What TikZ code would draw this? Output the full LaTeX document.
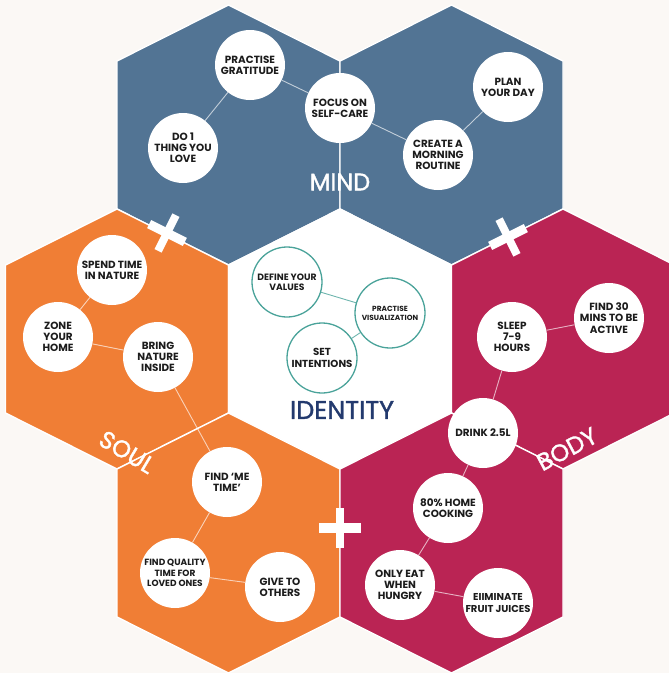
\documentclass[tikz,border=0pt]{standalone}
\usepackage{fontspec}
\setmainfont{Poppins}
\newfontfamily\labelfont{Poppins}[FakeBold=1.4]
\definecolor{bgcream}{HTML}{FBF8F5}
\definecolor{mindblue}{HTML}{527494}
\definecolor{soulorange}{HTML}{F07E35}
\definecolor{bodyred}{HTML}{BA2454}
\definecolor{idteal}{HTML}{4AA39A}
\definecolor{idnavy}{HTML}{233A6E}
\definecolor{inktext}{HTML}{1C1C1C}

% one hexagonal cell: centre x, centre y, fill colour
\newcommand\hexcell[3]{%
  \filldraw[fill=#3, draw=white, line width=1.4pt, line join=miter]
    (#1,#2-130) -- (#1+111.5,#2-74) -- (#1+111.5,#2+74) --
    (#1,#2+130) -- (#1-111.5,#2+74) -- (#1-111.5,#2-74) -- cycle;}

% a white plus sign: centre x, centre y, rotation
\newcommand\plusmark[3]{%
  \begin{scope}[shift={(#1,#2)}, rotate=#3]
    \fill[white] (-20,-4.5) rectangle (20,4.5);
    \fill[white] (-4,-20) rectangle (4,20);
  \end{scope}}

\tikzset{
  bub/.style={circle, fill=white, minimum size=70pt, inner sep=0pt,
    align=center, text=inktext,
    font=\fontsize{10.4}{11.2}\selectfont\bfseries},
  idbub/.style={bub, draw=idteal, line width=1.3pt},
  link/.style={draw=white, draw opacity=0.65, line width=0.9pt},
  idlink/.style={draw=idteal, draw opacity=0.8, line width=0.9pt},
  biglabel/.style={text=white, inner sep=0pt,
    font=\labelfont\fontsize{24}{24}\selectfont},
}

\begin{document}
\begin{tikzpicture}[x=1pt, y=-1pt]
  \useasboundingbox (0,0) rectangle (669,673);
  \fill[bgcream] (0,0) rectangle (669,673);
  \clip (0,0) rectangle (669,673);

  % honeycomb
  \hexcell{228.5}{135}{mindblue}
  \hexcell{451.5}{135}{mindblue}
  \hexcell{117}{339}{soulorange}
  \hexcell{340}{339}{white}
  \hexcell{563}{339}{bodyred}
  \hexcell{228.5}{543}{soulorange}
  \hexcell{451.5}{543}{bodyred}

  % plus signs on the seams
  \plusmark{167}{233}{-26.6}
  \plusmark{508}{237}{26.6}
  \begin{scope}[shift={(340,528)}]
    \fill[white] (-21,-5) rectangle (21,5);
    \fill[white] (-4,-20) rectangle (4,20);
  \end{scope}

  % MIND
  \node[bub] (grat)  at (250,65)  {PRACTISE\\GRATITUDE};
  \node[bub] (focus) at (340,108) {FOCUS ON\\SELF-CARE};
  \node[bub] (love)  at (183,148) {DO 1\\THING YOU\\LOVE};
  \node[bub] (plan)  at (508,87)  {PLAN\\YOUR DAY};
  \node[bub] (morn)  at (438,155) {CREATE A\\MORNING\\ROUTINE};
  \node[biglabel] (mind) at (340,182) {MIND};

  % SOUL
  \node[bub] (nature) at (112,270) {SPEND TIME\\IN NATURE};
  \node[bub] (zone)   at (58,337)  {ZONE\\YOUR\\HOME};
  \node[bub] (bring)  at (158,357) {BRING\\NATURE\\INSIDE};
  \node[bub] (metime) at (227,482) {FIND ‘ME\\TIME’};
  \node[bub, font=\fontsize{9}{10.6}\selectfont\bfseries] (quality) at (175,573) {FIND QUALITY\\TIME FOR\\LOVED ONES};
  \node[bub] (give)   at (280,587) {GIVE TO\\OTHERS};
  \node[biglabel, rotate=-31] (soul) at (127,452) {SOUL};

  % IDENTITY
  \node[idbub, font=\fontsize{9.2}{10.4}\selectfont\bfseries] (values) at (287,282) {DEFINE YOUR\\VALUES};
  \node[idbub, font=\fontsize{7.4}{9}\selectfont\bfseries] (visual) at (390,313) {PRACTISE\\VISUALIZATION};
  \node[idbub, font=\fontsize{10.2}{11.4}\selectfont\bfseries] (intent) at (322,358) {SET\\INTENTIONS};
  \node[text=idnavy, inner sep=0pt, font=\labelfont\fontsize{25.5}{25.5}\selectfont] (identity) at (342,410) {IDENTITY};

  % BODY
  \node[bub] (sleep)  at (512,337) {SLEEP\\7-9\\HOURS};
  \node[bub] (active) at (609,318) {FIND 30\\MINS TO BE\\ACTIVE};
  \node[bub] (drink)  at (483,433) {DRINK 2.5L};
  \node[bub] (cook)   at (448,508) {80\% HOME\\COOKING};
  \node[bub] (hungry) at (400,585) {ONLY EAT\\WHEN\\HUNGRY};
  \node[bub, font=\fontsize{10}{11.2}\selectfont\bfseries] (juice) at (498,603) {EIIMINATE\\FRUIT JUICES};
  \node[biglabel, rotate=28] (body) at (567,449) {BODY};

  % connectors
  \draw[link] (love) -- (grat);
  \draw[link] (grat) -- (focus);
  \draw[link] (focus) -- (morn);
  \draw[link] (morn) -- (plan);

  \draw[link] (nature) -- (zone);
  \draw[link] (zone) -- (bring);
  \draw[link] (bring) -- (metime);
  \draw[link] (metime) -- (quality);
  \draw[link] (quality) -- (give);

  \draw[idlink] (values) -- (visual);
  \draw[idlink] (visual) -- (intent);

  \draw[link] (sleep) -- (active);
  \draw[link] (sleep) -- (drink);
  \draw[link] (drink) -- (cook);
  \draw[link] (cook) -- (hungry);
  \draw[link] (hungry) -- (juice);
\end{tikzpicture}
\end{document}
